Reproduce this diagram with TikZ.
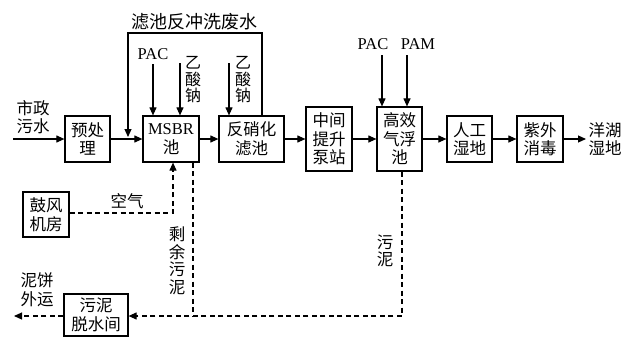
\documentclass[tikz,border=0pt]{standalone}
\usepackage{fontspec}
\setmainfont{Liberation Serif}
\newfontfamily\cjk{Noto Sans CJK SC}
\usetikzlibrary{arrows.meta}
\begin{document}
\begin{tikzpicture}[x=1pt,y=-1pt,
  box/.style={draw,line width=1.2pt,inner sep=0pt,align=center,font=\cjk\fontsize{16.5pt}{18.5pt}\selectfont},
  lbl/.style={inner sep=0pt,align=center,font=\cjk\fontsize{16.5pt}{18.5pt}\selectfont},
  vlbl/.style={inner sep=0pt,align=center,font=\cjk\fontsize{16pt}{16.5pt}\selectfont},
  lat/.style={inner sep=0pt,font=\fontsize{16.5pt}{18pt}\selectfont},
  flow/.style={line width=1.1pt,-{Triangle[length=8pt,width=7pt]}},
  dflow/.style={line width=1.1pt,dash pattern=on 5pt off 3.5pt,-{Triangle[length=8pt,width=7pt]}},
  dline/.style={line width=1.1pt,dash pattern=on 5pt off 3.5pt}]
\useasboundingbox (0,0) rectangle (632,338);
% boxes
\node[box,minimum width=45pt,minimum height=46pt] (pre) at (87.5,139) {预处\\理};
\node[box,minimum width=56pt,minimum height=46pt] (msbr) at (171,139) {{\rmfamily\fontsize{16.5pt}{18.5pt}\selectfont MSBR}\\池};
\node[box,minimum width=65pt,minimum height=46pt] (fxh) at (251.5,139) {反硝化\\滤池};
\node[box,minimum width=46pt,minimum height=64pt] (zj) at (329,139) {中间\\提升\\泵站};
\node[box,minimum width=45pt,minimum height=64pt] (gx) at (399.5,139) {高效\\气浮\\池};
\node[box,minimum width=45pt,minimum height=46pt] (rg) at (469.5,139) {人工\\湿地};
\node[box,minimum width=46pt,minimum height=46pt] (zw) at (540,139) {紫外\\消毒};
\node[box,minimum width=46pt,minimum height=45pt] (gf) at (46,214.5) {鼓风\\机房};
\node[box,minimum width=64pt,minimum height=42pt] (ws) at (96,315) {污泥\\脱水间};
% labels
\node[lbl] (sz) at (33,117) {市政\\污水};
\node[lbl] (yh) at (605,139) {洋湖\\湿地};
\node[lbl,font=\cjk\fontsize{18pt}{20pt}\selectfont] (lc) at (194,22) {滤池反冲洗废水};
\node[lat] (pac1) at (153,54) {PAC};
\node[vlbl] (ys1) at (193,80) {乙\\酸\\钠};
\node[vlbl] (ys2) at (243,80) {乙\\酸\\钠};
\node[lat] (pac2) at (373,44) {PAC};
\node[lat] (pam) at (418,44) {PAM};
\node[lbl] (kq) at (127,201) {空气};
\node[vlbl,font=\cjk\fontsize{16.5pt}{17.5pt}\selectfont] (sy) at (177,261) {剩\\余\\污\\泥};
\node[vlbl,font=\cjk\fontsize{16.5pt}{17.5pt}\selectfont] (wn) at (385,251) {污\\泥};
\node[lbl] (nb) at (37,290) {泥饼\\外运};
% coordinates
\coordinate (in) at (13,139);
\coordinate (out) at (586,139);
\coordinate (bt) at (128,33);
\coordinate (bj) at (128,137);
\coordinate (air) at (173,213);
\coordinate (sl) at (193,316);
\coordinate (slend) at (14,316);
% main flow
\draw[flow] (in) -- (pre.west);
\draw[flow] (pre) -- (msbr);
\draw[flow] (msbr) -- (fxh);
\draw[flow] (fxh) -- (zj);
\draw[flow] (zj) -- (gx);
\draw[flow] (gx) -- (rg);
\draw[flow] (rg) -- (zw);
\draw[flow] (zw) -- (out);
% backwash loop
\draw[flow] (fxh.north -| 262,0) |- (bt) -- (bj);
% dosing
\draw[flow] (153,64) -- (msbr.north -| 153,0);
\draw[flow] (180,63) -- (msbr.north -| 180,0);
\draw[flow] (229,63) -- (fxh.north -| 229,0);
\draw[flow] (382,55) -- (gx.north -| 382,0);
\draw[flow] (407,55) -- (gx.north -| 407,0);
% air
\draw[dflow] (gf.east |- air) -- (air) -- (msbr.south -| air);
% sludge
\draw[dline] (msbr.south -| sl) -- (sl);
\draw[dflow] (gx.south -| 402,0) |- (ws.east |- sl);
\draw[dflow] (ws.west |- sl) -- (slend);
\end{tikzpicture}
\end{document}
